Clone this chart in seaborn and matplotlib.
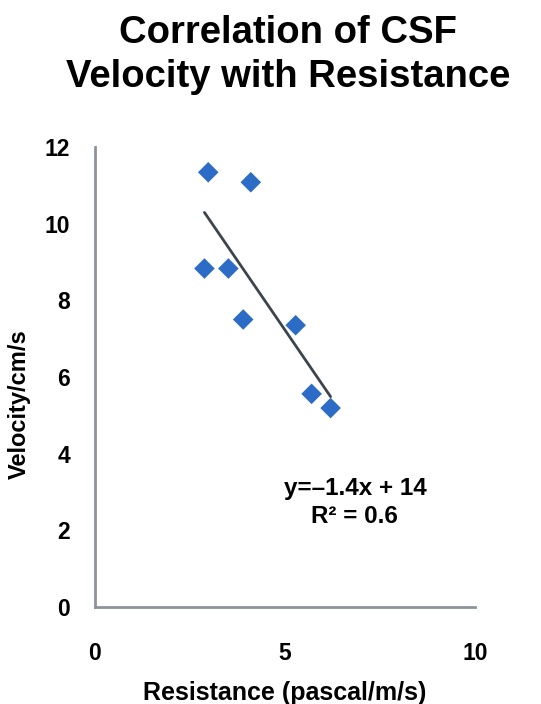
import numpy as np
import pandas as pd
import matplotlib
matplotlib.use('Agg')
import matplotlib.pyplot as plt
import seaborn as sns

# values
resistance = [2.98, 4.10, 2.88, 3.51, 3.90, 5.28, 5.70, 6.20]
velocity = [11.34, 11.08, 8.83, 8.83, 7.50, 7.35, 5.56, 5.19]
x_ticks = [0, 5, 10]
y_ticks = [0, 2, 4, 6, 8, 10, 12]
fit_text = 'y=\u20131.4x + 14\nR\u00b2 = 0.6'

df = pd.DataFrame({'Resistance': resistance, 'Velocity': velocity})

sns.set_style('white')
plt.rcParams['font.family'] = ['Liberation Sans', 'DejaVu Sans']
plt.rcParams['font.weight'] = 'bold'
plt.rcParams['text.color'] = 'black'
plt.rcParams['axes.labelcolor'] = 'black'
plt.rcParams['xtick.color'] = 'black'
plt.rcParams['ytick.color'] = 'black'

fig = plt.figure(figsize=(5.41, 7.04), dpi=100)
ax = fig.add_axes([0.1756, 0.1378, 0.7024, 0.6534])

# trend line
sns.regplot(x='Resistance', y='Velocity', data=df, scatter=False, ci=None,
            color='#3b464c', line_kws={'linewidth': 2}, ax=ax)

# points
sns.scatterplot(x='Resistance', y='Velocity', data=df, marker='D', s=110,
                color='#2c6cc6', edgecolor='none', ax=ax, zorder=3)

ax.set_xlim(0, 10)
ax.set_ylim(0, 12)
ax.set_xticks(x_ticks)
ax.set_yticks(y_ticks)
ax.tick_params(length=0, labelsize=16.5)
ax.tick_params(axis='y', pad=18)
ax.tick_params(axis='x', pad=25)
for lab in ax.get_xticklabels() + ax.get_yticklabels():
    lab.set_fontweight('bold')

for side in ['top', 'right']:
    ax.spines[side].set_visible(False)
for side in ['left', 'bottom']:
    ax.spines[side].set_color('#8c949b')
    ax.spines[side].set_linewidth(2)

ax.set_xlabel('Resistance (pascal/m/s)', fontsize=18, fontweight='bold', labelpad=12)
ax.set_ylabel('Velocity/cm/s', fontsize=17, fontweight='bold')
ax.yaxis.set_label_coords(-0.168, 0.44)

ax.text(6.84, 2.72, fit_text, ha='center', va='center', fontsize=17.5,
        fontweight='bold', linespacing=1.25)

fig.text(0.532, 0.979, 'Correlation of CSF\nVelocity with Resistance',
         ha='center', va='top', fontsize=27.5, fontweight='bold', linespacing=1.3)

plt.savefig('out.png', dpi=100)
